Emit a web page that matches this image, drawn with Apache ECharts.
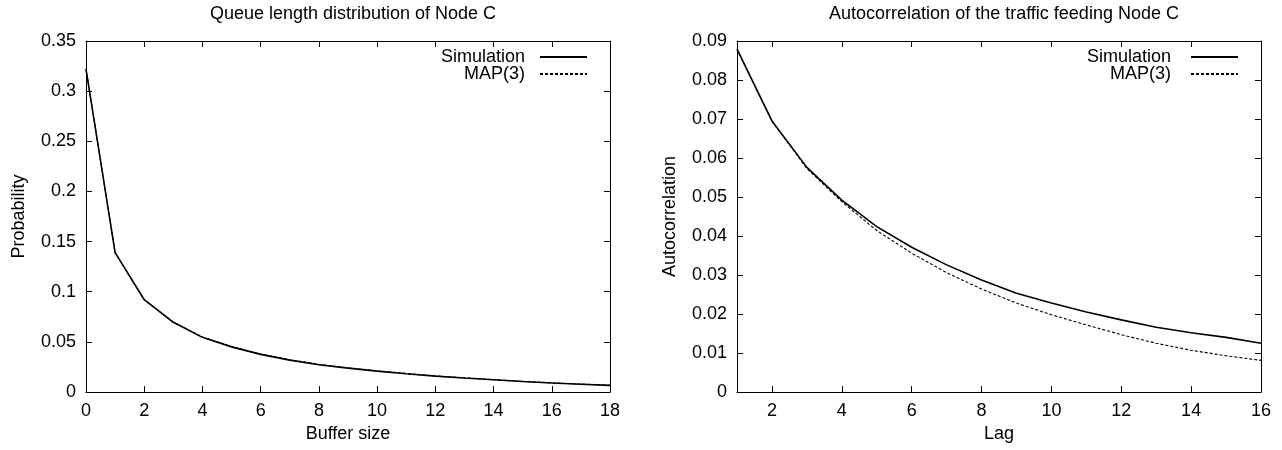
<!DOCTYPE html>
<html>
<head>
<meta charset="utf-8">
<script src="https://cdn.jsdelivr.net/npm/echarts@6/dist/echarts.min.js"></script>
<style>
  html, body { margin: 0; padding: 0; background: #fff; }
  #chart { width: 1282px; height: 450px; }
</style>
</head>
<body>
<div id="chart"></div>
<script>
// left plot: queue length distribution
const bufferSizes = [0, 1, 2, 3, 4, 5, 6, 7, 8, 9, 10, 11, 12, 13, 14, 15, 16, 17, 18];
const queueSim = [0.322, 0.139, 0.092, 0.0695, 0.0545, 0.045, 0.0375, 0.0318, 0.0272, 0.0238, 0.0208, 0.0182, 0.0158, 0.0139, 0.0122, 0.0105, 0.0090, 0.0078, 0.0066];
const queueMap = [0.322, 0.139, 0.092, 0.0697, 0.0548, 0.0454, 0.0379, 0.0322, 0.0276, 0.0241, 0.0211, 0.0185, 0.0160, 0.0141, 0.0123, 0.0106, 0.0091, 0.0079, 0.0067];

// right plot: autocorrelation
const lags = [1, 2, 3, 4, 5, 6, 7, 8, 9, 10, 11, 12, 13, 14, 15, 16];
const acfSim = [0.0879, 0.0695, 0.0576, 0.0492, 0.0424, 0.0371, 0.0326, 0.0287, 0.0253, 0.0228, 0.0205, 0.0185, 0.0166, 0.0152, 0.0140, 0.0125];
const acfMap = [0.0879, 0.0695, 0.0573, 0.0488, 0.0414, 0.0356, 0.0306, 0.0264, 0.0228, 0.0198, 0.0172, 0.0147, 0.0125, 0.0107, 0.0093, 0.0081];
const lagTicks = [2, 4, 6, 8, 10, 12, 14, 16];

const font = "Liberation Sans";
const fs = 18;

const pairs = (xs, ys) => xs.map((x, i) => [x, ys[i]]);

// bottom/left axes with labels, top/right axes only ticks
function axis(pos, gridIndex, opts) {
  const labelled = pos === "bottom" || pos === "left";
  return Object.assign({
    type: "value",
    gridIndex,
    position: pos,
    axisLine: { show: true, onZero: false, lineStyle: { color: "#000", width: 1 } },
    axisTick: { show: true, inside: true, length: 6, lineStyle: { color: "#000" } },
    axisLabel: { show: labelled, color: "#000", fontFamily: font, fontSize: fs, margin: 10 },
    splitLine: { show: false },
    nameTextStyle: { color: "#000", fontFamily: font, fontSize: fs },
  }, opts);
}

const lagAxis = {
  min: 1, max: 16,
  axisTick: { show: true, inside: true, length: 6, lineStyle: { color: "#000" }, customValues: lagTicks },
};

function legend(names, right) {
  return {
    data: names, orient: "vertical", align: "right", right, top: 43,
    itemWidth: 47, itemHeight: 14, itemGap: -1,
    itemStyle: { opacity: 0 },
    textStyle: { color: "#000", fontFamily: font, fontSize: fs, padding: [0, 10, 0, 0] },
  };
}

const chart = echarts.init(document.getElementById("chart"), null, { renderer: "canvas" });

chart.setOption({
  backgroundColor: "#fff",
  animation: false,
  title: [
    { text: "Queue length distribution of Node C", left: 348, top: 0, textAlign: "center",
      textStyle: { color: "#000", fontFamily: font, fontSize: fs, fontWeight: "normal" } },
    { text: "Autocorrelation of the traffic feeding Node C", left: 999, top: 0, textAlign: "center",
      textStyle: { color: "#000", fontFamily: font, fontSize: fs, fontWeight: "normal" } },
  ],
  legend: [
    legend(["Simulation", "MAP(3)"], 689),
    legend(["Simulation ", "MAP(3) "], 38),
  ],
  grid: [
    { left: 86, top: 41, width: 524, height: 351 },
    { left: 737, top: 41, width: 524, height: 351 },
  ],
  xAxis: [
    axis("bottom", 0, { min: 0, max: 18, interval: 2, name: "Buffer size", nameLocation: "middle", nameGap: 32 }),
    axis("top", 0, { min: 0, max: 18, interval: 2 }),
    axis("bottom", 1, Object.assign({}, lagAxis, {
      axisLabel: { show: true, color: "#000", fontFamily: font, fontSize: fs, margin: 10, customValues: lagTicks },
      name: "Lag", nameLocation: "middle", nameGap: 32 })),
    axis("top", 1, lagAxis),
  ],
  yAxis: [
    axis("left", 0, { min: 0, max: 0.35, interval: 0.05, name: "Probability", nameLocation: "middle", nameGap: 58 }),
    axis("right", 0, { min: 0, max: 0.35, interval: 0.05 }),
    axis("left", 1, { min: 0, max: 0.09, interval: 0.01, name: "Autocorrelation", nameLocation: "middle", nameGap: 58 }),
    axis("right", 1, { min: 0, max: 0.09, interval: 0.01 }),
  ],
  series: [
    { name: "Simulation", type: "line", xAxisIndex: 0, yAxisIndex: 0, data: pairs(bufferSizes, queueSim),
      symbol: "none", color: "#000", lineStyle: { color: "#000", width: 1.6 } },
    { name: "MAP(3)", type: "line", xAxisIndex: 0, yAxisIndex: 0, data: pairs(bufferSizes, queueMap),
      symbol: "none", color: "#000", lineStyle: { color: "#000", width: 1.1, type: [3, 2] } },
    { name: "Simulation ", type: "line", xAxisIndex: 2, yAxisIndex: 2, data: pairs(lags, acfSim),
      symbol: "none", color: "#000", lineStyle: { color: "#000", width: 1.6 } },
    { name: "MAP(3) ", type: "line", xAxisIndex: 2, yAxisIndex: 2, data: pairs(lags, acfMap),
      symbol: "none", color: "#000", lineStyle: { color: "#000", width: 1.1, type: [3, 2] } },
  ],
});
</script>
</body>
</html>
